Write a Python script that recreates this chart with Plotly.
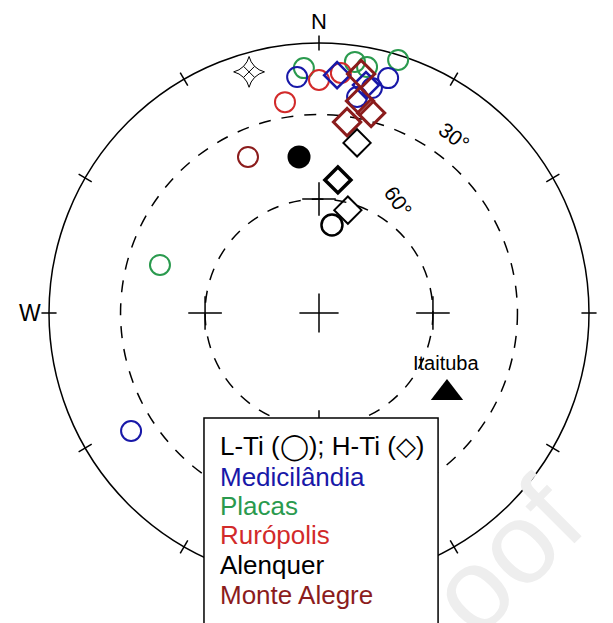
import numpy as np
import plotly.graph_objects as go

# ---------------------------------------------------
# Data: projected site means (east, north), primitive radius = 1
# ---------------------------------------------------
medicilandia_lti_e = [-0.081, 0.256, 0.196, 0.141, -0.696]
medicilandia_lti_n = [0.874, 0.870, 0.833, 0.800, -0.437]
medicilandia_hti_e = [0.067, 0.174]
medicilandia_hti_n = [0.881, 0.844]

placas_lti_e = [-0.056, 0.133, 0.178, 0.293, -0.589]
placas_lti_n = [0.907, 0.930, 0.911, 0.937, 0.178]

ruropolis_lti_e = [0.000, 0.081, -0.126]
ruropolis_lti_n = [0.863, 0.889, 0.781]

monte_alegre_lti_e = [-0.263]
monte_alegre_lti_n = [0.578]
monte_alegre_hti_e = [0.156, 0.152, 0.193, 0.104]
monte_alegre_hti_n = [0.885, 0.785, 0.741, 0.707]

alenquer_lti_e = [0.048]
alenquer_lti_n = [0.326]
alenquer_hti_e = [0.141, 0.107]
alenquer_hti_n = [0.630, 0.381]
alenquer_hti_bold_e = [0.070]
alenquer_hti_bold_n = [0.493]

mean_e = [-0.074]
mean_n = [0.578]

star_e = [-0.259]
star_n = [0.893]

itaituba_e = [0.474]
itaituba_n = [-0.296]

dashed_radii = [0.735, 0.422]
dashed_labels = ["30°", "60°"]

legend_lines = ["L-Ti (◯); H-Ti (◇)", "Medicilândia", "Placas",
                "Rurópolis", "Alenquer", "Monte Alegre"]

BLUE = "#1818a8"
GREEN = "#2a9a4e"
RED = "#d22a2a"
DARKRED = "#8b1c1c"
BLACK = "#000000"
FONT = "Arial, Liberation Sans, sans-serif"

# page geometry: net centre / radius in window pixels, body margin of the page
CX, CY, R, PAGE_MARGIN = 319, 313, 270, 8
W, H = 613, 623

fig = go.Figure()


def add_points(xs, ys, symbol, color, size=20, width=2.0):
    fig.add_trace(go.Scatter(
        x=xs, y=ys, mode="markers",
        marker=dict(symbol=symbol, size=size, color=color,
                    line=dict(color=color, width=width)),
        showlegend=False, hoverinfo="skip"
    ))


# crosses: center and on the 60 deg circle
fig.add_trace(go.Scatter(
    x=[0], y=[0], mode="markers",
    marker=dict(symbol="cross-thin", size=28, line=dict(color=BLACK, width=1.5)),
    showlegend=False, hoverinfo="skip"
))
fig.add_trace(go.Scatter(
    x=[-dashed_radii[1], dashed_radii[1], 0, 0],
    y=[0, 0, dashed_radii[1], -dashed_radii[1]],
    mode="markers",
    marker=dict(symbol="cross-thin", size=24, line=dict(color=BLACK, width=1.5)),
    showlegend=False, hoverinfo="skip"
))

# ==============================
# SITE MEANS
# ==============================
add_points(placas_lti_e, placas_lti_n, "circle-open", GREEN)
add_points(medicilandia_lti_e, medicilandia_lti_n, "circle-open", BLUE)
add_points(ruropolis_lti_e, ruropolis_lti_n, "circle-open", RED)
add_points(medicilandia_hti_e, medicilandia_hti_n, "diamond-open", BLUE, 20, 2.5)
add_points(monte_alegre_hti_e, monte_alegre_hti_n, "diamond-open", DARKRED, 21, 3)
add_points(monte_alegre_lti_e, monte_alegre_lti_n, "circle-open", DARKRED)
add_points(alenquer_hti_e, alenquer_hti_n, "diamond-open", BLACK, 21, 2)
add_points(alenquer_hti_bold_e, alenquer_hti_bold_n, "diamond-open", BLACK, 20, 3.5)
add_points(alenquer_lti_e, alenquer_lti_n, "circle-open", BLACK, 21, 2.5)
add_points(mean_e, mean_n, "circle", BLACK, 23, 0)
add_points(star_e, star_n, "star-diamond-open", BLACK, 22, 1)
add_points(star_e, star_n, "x-thin-open", BLACK, 11, 1)
add_points(itaituba_e, itaituba_n, "triangle-up", BLACK, 28, 0)

# ==============================
# NET: primitive, dashed circles, ticks
# ==============================
shapes = [dict(type="circle", xref="x", yref="y", x0=-1, y0=-1, x1=1, y1=1,
               line=dict(color=BLACK, width=1.5), layer="below")]
for r in dashed_radii:
    shapes.append(dict(type="circle", xref="x", yref="y", x0=-r, y0=-r, x1=r, y1=r,
                       line=dict(color=BLACK, width=1.5, dash="12px,11px"),
                       layer="below"))
for az in range(0, 360, 30):
    a = np.radians(az)
    shapes.append(dict(type="line", xref="x", yref="y",
                       x0=0.972 * np.sin(a), y0=0.972 * np.cos(a),
                       x1=1.028 * np.sin(a), y1=1.028 * np.cos(a),
                       line=dict(color=BLACK, width=1.5), layer="below"))

# legend box (bottom runs off the page)
shapes.append(dict(type="rect", xref="x", yref="y", x0=-0.426, x1=0.441,
                   y0=-1.40, y1=-0.389, fillcolor="white",
                   line=dict(color=BLACK, width=1.5), layer="above"))

annotations = [
    dict(x=0, y=1.080, text="N", font=dict(size=22, color=BLACK, family=FONT)),
    dict(x=-1.070, y=0, text="W", font=dict(size=23, color=BLACK, family=FONT)),
    dict(x=1.048, y=0, text="E", font=dict(size=23, color=BLACK, family=FONT),
         xanchor="left"),
    dict(x=0.500, y=0.652, text=dashed_labels[0], textangle=38,
         font=dict(size=21, color=BLACK, family=FONT)),
    dict(x=0.293, y=0.412, text=dashed_labels[1], textangle=55,
         font=dict(size=21, color=BLACK, family=FONT)),
    dict(x=itaituba_e[0] - 0.004, y=itaituba_n[0] + 0.110, text="Itaituba",
         font=dict(size=20, color=BLACK, family=FONT)),
]

legend_colors = [BLACK, BLUE, GREEN, RED, BLACK, DARKRED]
legend_y = [-0.496, -0.607, -0.715, -0.822, -0.933, -1.044]
for txt, col, yy in zip(legend_lines, legend_colors, legend_y):
    annotations.append(dict(x=-0.374, y=yy, text=txt, xanchor="left",
                            font=dict(size=26, color=col, family=FONT)))

# faint watermark remnant
annotations.append(dict(x=0.690, y=-0.900, text="oof", textangle=-45,
                        font=dict(size=115, color="#eeeeee", family=FONT)))

for a in annotations:
    a.setdefault("xref", "x")
    a.setdefault("yref", "y")
    a.setdefault("showarrow", False)

# axis ranges so that one data unit = R window pixels, net centred at (CX, CY)
x_range = [(PAGE_MARGIN - CX) / R, (PAGE_MARGIN + W - CX) / R]
y_range = [(CY - PAGE_MARGIN - H) / R, (CY - PAGE_MARGIN) / R]

fig.update_layout(
    width=W, height=H, autosize=False,
    margin=dict(l=0, r=0, t=0, b=0),
    paper_bgcolor="white", plot_bgcolor="white",
    xaxis=dict(range=x_range, visible=False, fixedrange=True),
    yaxis=dict(range=y_range, visible=False, fixedrange=True),
    shapes=shapes, annotations=annotations, showlegend=False
)

fig.write_html("out.html")
